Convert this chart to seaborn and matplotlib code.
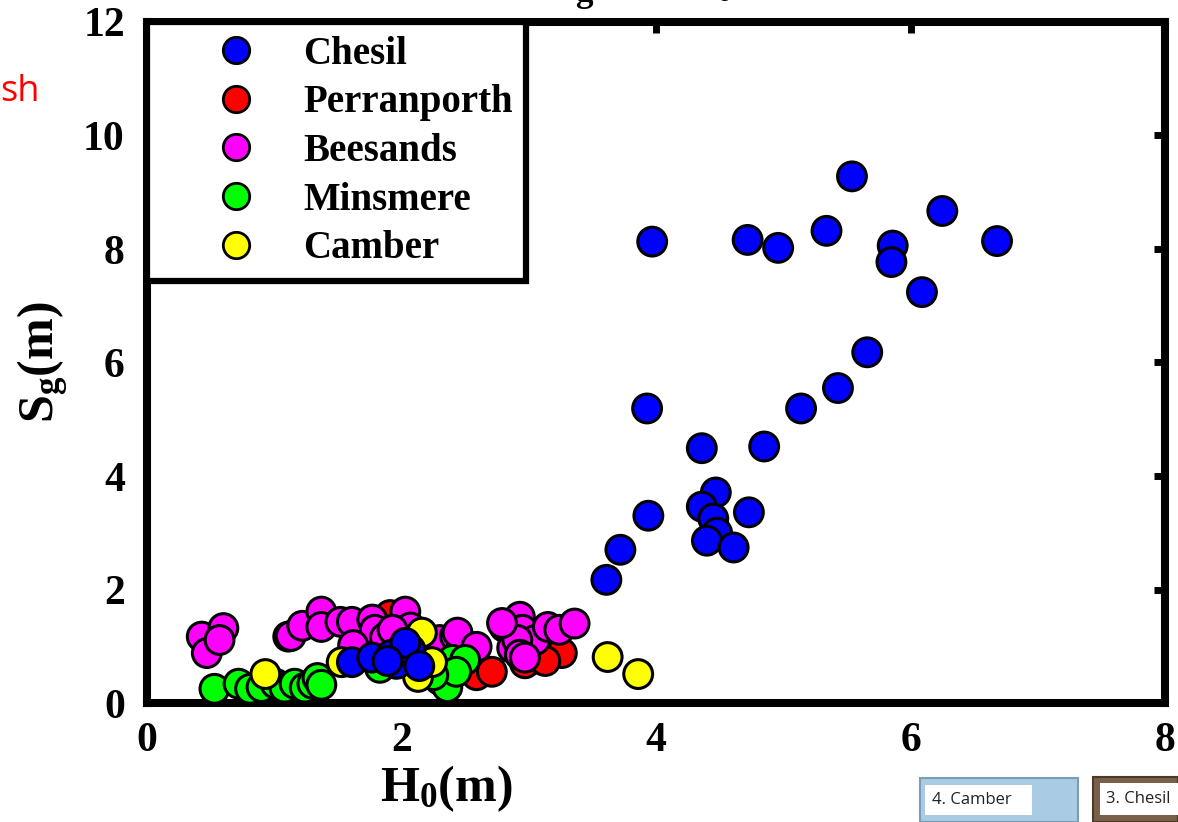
import numpy as np
import pandas as pd
import seaborn as sns
import matplotlib
matplotlib.use("Agg")
import matplotlib.pyplot as plt
from matplotlib.lines import Line2D
from matplotlib.patches import Rectangle

# ---- data ----
chesil_h = [3.97, 4.72, 4.96, 5.34, 5.54, 6.25, 6.68, 5.86, 5.85, 6.09, 5.66, 5.43, 5.14,
            3.93, 4.36, 4.85, 3.94, 4.47, 4.36, 4.45, 4.48, 4.73, 4.40, 4.61, 3.72, 3.61,
            1.61, 1.77, 1.92, 1.96, 2.07, 2.03, 2.14, 1.89]
chesil_s = [8.13, 8.16, 8.02, 8.32, 9.28, 8.67, 8.14, 8.06, 7.77, 7.24, 6.18, 5.55, 5.19,
            5.19, 4.49, 4.52, 3.30, 3.71, 3.46, 3.25, 3.00, 3.36, 2.86, 2.74, 2.70, 2.17,
            0.72, 0.80, 0.85, 0.69, 0.94, 1.06, 0.65, 0.74]

perran_h = [1.91, 2.54, 2.59, 2.71, 2.97, 3.11, 3.26, 3.13, 2.20, 2.35, 2.05]
perran_s = [1.55, 0.62, 0.49, 0.55, 0.70, 0.76, 0.88, 0.74, 0.80, 0.70, 1.00]

bees_h = [0.43, 0.47, 0.60, 0.57, 1.11, 1.13, 1.22, 1.37, 1.37, 1.52, 1.61, 1.77, 1.79,
          1.87, 1.62, 2.03, 2.07, 1.93, 2.30, 2.42, 2.47, 2.58, 2.81, 2.93, 2.95, 3.05,
          2.87, 2.91, 3.15, 3.24, 3.36, 2.93, 2.44, 2.59, 2.79, 2.97]
bees_s = [1.17, 0.88, 1.32, 1.11, 1.17, 1.18, 1.36, 1.61, 1.34, 1.43, 1.43, 1.47, 1.29,
          1.15, 1.02, 1.61, 1.33, 1.29, 1.11, 1.18, 0.94, 0.97, 1.34, 1.52, 1.29, 1.11,
          0.97, 1.11, 1.34, 1.29, 1.40, 0.85, 1.24, 0.99, 1.41, 0.80]

mins_h = [0.53, 0.72, 0.81, 0.90, 1.01, 1.08, 1.16, 1.24, 1.30, 1.34, 1.37, 1.83,
          2.28, 2.30, 2.36, 2.40, 2.50, 2.43, 2.25]
mins_s = [0.25, 0.34, 0.25, 0.28, 0.34, 0.27, 0.34, 0.27, 0.34, 0.44, 0.32, 0.62,
          0.62, 0.41, 0.28, 0.76, 0.76, 0.55, 0.49]

camber_h = [0.93, 1.53, 2.16, 2.13, 2.24, 3.62, 3.86]
camber_s = [0.51, 0.72, 1.24, 0.46, 0.72, 0.81, 0.51]

sites = ["Chesil", "Perranporth", "Beesands", "Minsmere", "Camber"]
colors = ["#0000FF", "#FF0000", "#FF00FF", "#00FF00", "#FFFF00"]
draw_order = ["Perranporth", "Beesands", "Minsmere", "Camber", "Chesil"]
x_ticks = [0, 2, 4, 6, 8]
y_ticks = [0, 2, 4, 6, 8, 10, 12]

data = {"Chesil": (chesil_h, chesil_s), "Perranporth": (perran_h, perran_s),
        "Beesands": (bees_h, bees_s), "Minsmere": (mins_h, mins_s),
        "Camber": (camber_h, camber_s)}
frames = [pd.DataFrame({"H0": data[k][0], "Sg": data[k][1], "site": k}) for k in draw_order]
df = pd.concat(frames, ignore_index=True)
palette = dict(zip(sites, colors))

# ---- figure ----
sns.set_theme(style="white")
plt.rcParams["font.family"] = ["Liberation Serif", "DejaVu Serif"]
plt.rcParams.update({
    "text.color": "black", "axes.labelcolor": "black",
    "xtick.color": "black", "ytick.color": "black",
    "mathtext.fontset": "custom", "mathtext.rm": "Liberation Serif",
    "mathtext.bf": "Liberation Serif:bold", "mathtext.it": "Liberation Serif:italic",
})
fig = plt.figure(figsize=(11.78, 8.22), dpi=100)
ax = fig.add_axes([147/1178, 1-703/822, (1165-147)/1178, (703-22)/822])

sns.scatterplot(data=df, x="H0", y="Sg", hue="site", palette=palette, s=430,
                edgecolor="black", linewidth=2.2, ax=ax, legend=False, zorder=3)

ax.set_xlim(0, 8)
ax.set_ylim(0, 12)
ax.set_xticks(x_ticks)
ax.set_yticks(y_ticks)
for sp in ax.spines.values():
    sp.set_visible(True)
    sp.set_color("black")
    sp.set_linewidth(5.8)
ax.tick_params(direction="in", length=8, width=5, colors="black",
               top=True, right=True, labelsize=30)
ax.tick_params(axis="y", pad=16)
ax.tick_params(axis="x", pad=14)
for lab in ax.get_xticklabels() + ax.get_yticklabels():
    lab.set_fontweight("bold")
ax.grid(False)

ax.set_xlabel(r"H$_\mathbf{0}$(m)", fontsize=36, fontweight="bold")
ax.set_ylabel(r"S$_\mathbf{g}$(m)", fontsize=36, fontweight="bold")
ax.xaxis.set_label_coords((446-147)/1018, -0.088)
ax.yaxis.set_label_coords((71-147)/1018, 0.5)

handles = [Line2D([0], [0], marker="o", linestyle="none", markersize=19,
                  markerfacecolor=palette[k], markeredgecolor="black",
                  markeredgewidth=2.0) for k in sites]
leg = ax.legend(handles, sites, loc="upper left", bbox_to_anchor=(0, 1),
                borderaxespad=0, frameon=True, fancybox=False,
                prop={"weight": "bold", "size": 28}, handlelength=3.88,
                handletextpad=-0.22, labelspacing=0.3, borderpad=0.35)
leg.get_frame().set_edgecolor("black")
leg.get_frame().set_linewidth(4.5)
leg.get_frame().set_alpha(1)
leg.set_zorder(5)

# title (cut off at the top of the slide crop, only the subscripts peek in)
fig.text(640/1178, 1.0 - 13/822, r"S$_\mathbf{g}$ vs. H$_\mathbf{0}$", fontsize=36,
         fontweight="bold", ha="center", va="bottom")

# red slide text at the left edge
fig.text(0, 1 - 92/822, "sh", color="red", fontsize=26,
         family=["Open Sans", "DejaVu Sans"], ha="left", va="center")

# thumbnails at bottom right
fig.patches.append(Rectangle((920/1178, 0), (1078-920)/1178, 44/822,
                             transform=fig.transFigure, facecolor="#A9CBE3",
                             edgecolor="#7A9CB5", linewidth=1.5))
fig.patches.append(Rectangle((925/1178, 7/822), (1032-925)/1178, 30/822,
                             transform=fig.transFigure, facecolor="white",
                             edgecolor="none"))
fig.text(932/1178, 22/822, "4. Camber", fontsize=12, family=["Open Sans", "DejaVu Sans"],
         ha="left", va="center", color="#222222")
fig.patches.append(Rectangle((1093/1178, 0), (1178-1093)/1178, 45/822,
                             transform=fig.transFigure, facecolor="#7A6048",
                             edgecolor="#4A3A2A", linewidth=1.5))
fig.patches.append(Rectangle((1100/1178, 7/822), 80/1178, 32/822,
                             transform=fig.transFigure, facecolor="white",
                             edgecolor="none"))
fig.text(1106/1178, 23/822, "3. Chesil", fontsize=12, family=["Open Sans", "DejaVu Sans"],
         ha="left", va="center", color="#222222")

fig.savefig("out.png", dpi=100)
